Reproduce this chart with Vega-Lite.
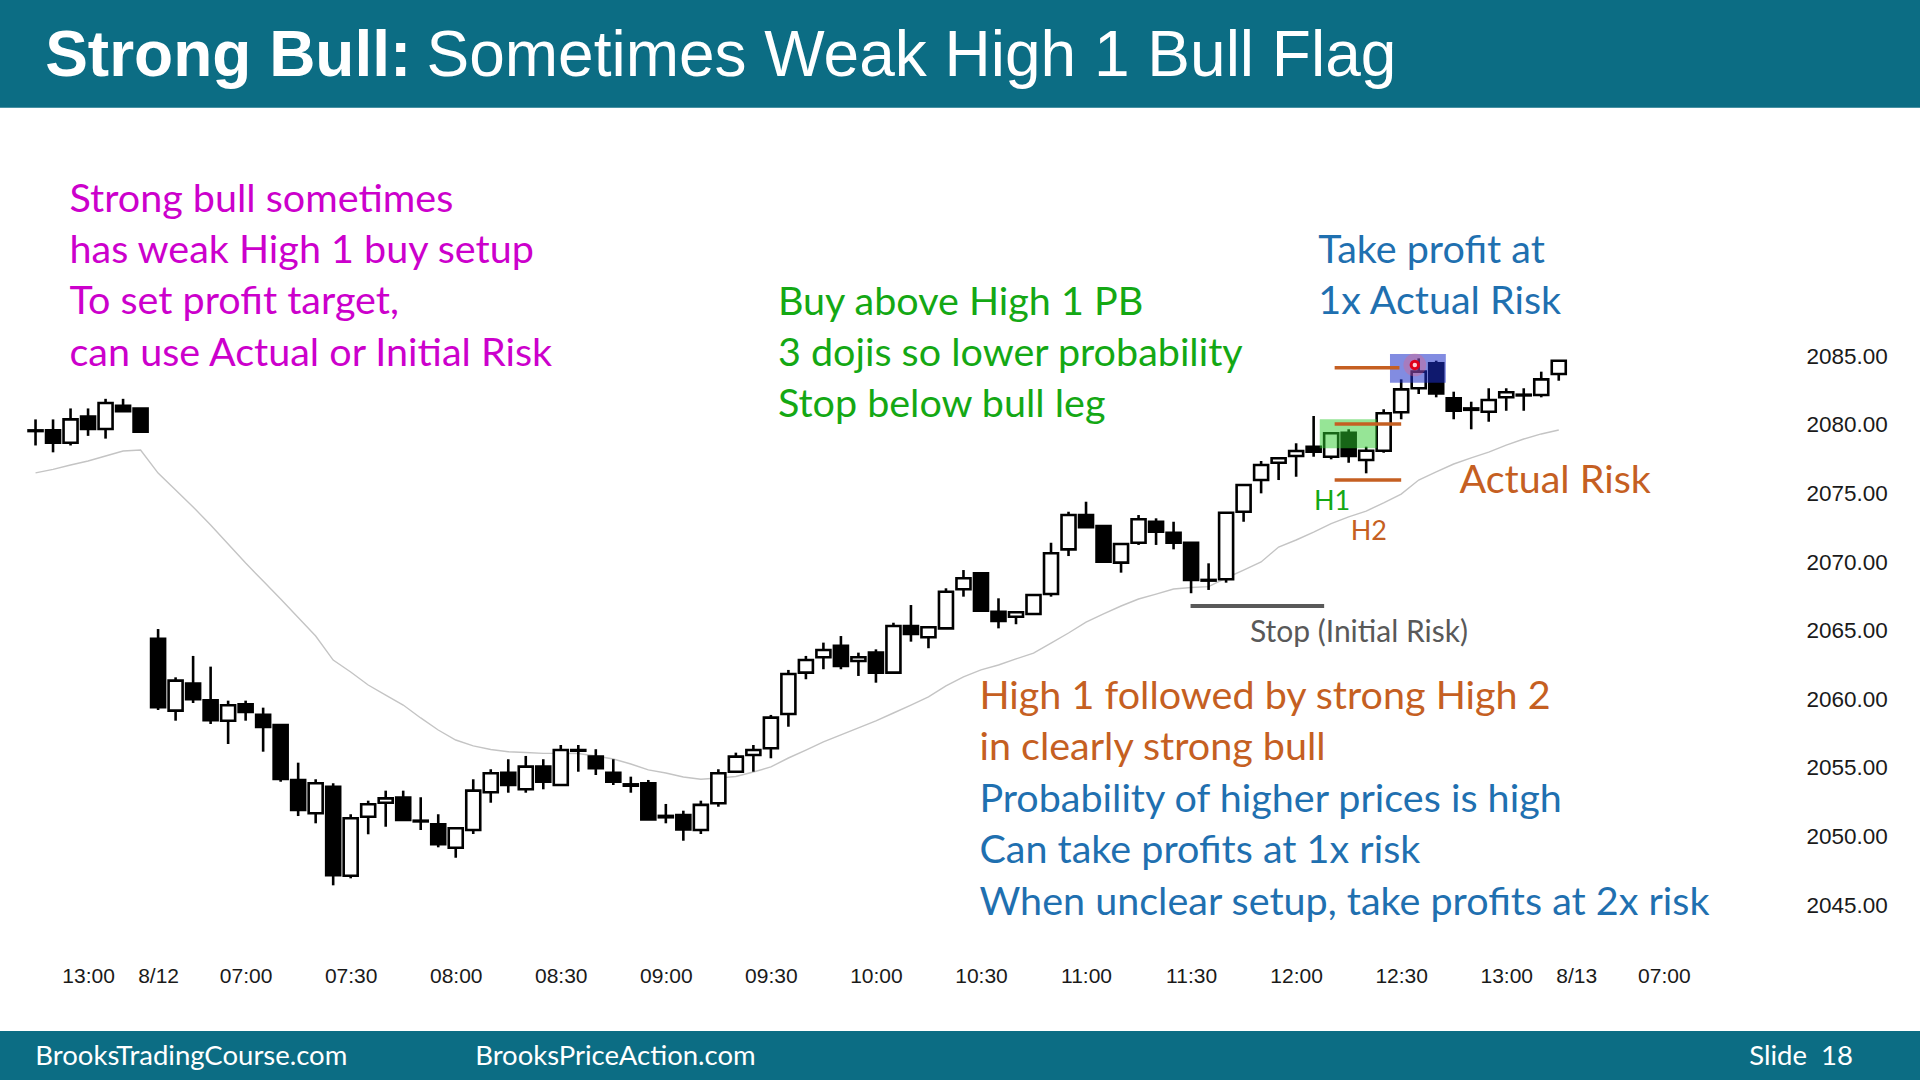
{
  "$schema": "https://vega.github.io/schema/vega-lite/v6.json",
  "width": 1920,
  "height": 1080,
  "autosize": "none",
  "padding": 0,
  "background": "white",
  "config": {"view": {"stroke": null}},
  "datasets": {
    "one": [{}],
    "bars": [
      {"i":0,"o":2079.6,"h":2080.4,"l":2078.5,"c":2079.55,"ma":2076.5},
      {"i":1,"o":2079.6,"h":2080.4,"l":2078.0,"c":2078.7,"ma":2076.76},
      {"i":2,"o":2078.7,"h":2081.2,"l":2078.5,"c":2080.4,"ma":2077.08},
      {"i":3,"o":2080.6,"h":2081.2,"l":2079.2,"c":2079.7,"ma":2077.37},
      {"i":4,"o":2079.7,"h":2081.9,"l":2079.0,"c":2081.6,"ma":2077.73},
      {"i":5,"o":2081.4,"h":2081.9,"l":2081.0,"c":2081.0,"ma":2078.1},
      {"i":6,"o":2081.2,"h":2081.2,"l":2079.5,"c":2079.5,"ma":2078.17},
      {"i":7,"o":2064.4,"h":2065.12,"l":2059.22,"c":2059.42,"ma":2076.49},
      {"i":8,"o":2059.17,"h":2061.6,"l":2058.44,"c":2061.36,"ma":2075.26},
      {"i":9,"o":2061.14,"h":2063.16,"l":2059.73,"c":2060.0,"ma":2074.02},
      {"i":10,"o":2059.93,"h":2062.38,"l":2058.2,"c":2058.47,"ma":2072.7},
      {"i":11,"o":2058.44,"h":2059.9,"l":2056.74,"c":2059.56,"ma":2071.32},
      {"i":12,"o":2059.64,"h":2059.9,"l":2058.44,"c":2059.07,"ma":2069.93},
      {"i":13,"o":2058.86,"h":2059.39,"l":2056.18,"c":2057.98,"ma":2068.62},
      {"i":14,"o":2058.13,"h":2058.13,"l":2053.99,"c":2054.19,"ma":2067.31},
      {"i":15,"o":2054.12,"h":2055.38,"l":2051.49,"c":2051.93,"ma":2065.96},
      {"i":16,"o":2051.69,"h":2054.17,"l":2050.96,"c":2053.88,"ma":2064.61},
      {"i":17,"o":2053.63,"h":2053.88,"l":2046.44,"c":2047.17,"ma":2062.86},
      {"i":18,"o":2047.14,"h":2051.62,"l":2046.95,"c":2051.33,"ma":2061.99},
      {"i":19,"o":2051.44,"h":2052.61,"l":2050.16,"c":2052.35,"ma":2061.04},
      {"i":20,"o":2052.46,"h":2053.34,"l":2050.71,"c":2052.78,"ma":2060.31},
      {"i":21,"o":2052.83,"h":2053.34,"l":2051.2,"c":2051.2,"ma":2059.58},
      {"i":22,"o":2051.15,"h":2052.86,"l":2050.47,"c":2051.1,"ma":2058.64},
      {"i":23,"o":2050.89,"h":2051.62,"l":2049.21,"c":2049.43,"ma":2057.76},
      {"i":24,"o":2049.18,"h":2050.6,"l":2048.45,"c":2050.6,"ma":2057.03},
      {"i":25,"o":2050.47,"h":2054.17,"l":2050.18,"c":2053.34,"ma":2056.6},
      {"i":26,"o":2053.22,"h":2054.9,"l":2052.46,"c":2054.61,"ma":2056.34},
      {"i":27,"o":2054.65,"h":2055.63,"l":2053.19,"c":2053.75,"ma":2056.18},
      {"i":28,"o":2053.44,"h":2055.87,"l":2053.19,"c":2055.09,"ma":2056.12},
      {"i":29,"o":2055.09,"h":2055.63,"l":2053.44,"c":2053.99,"ma":2056.06},
      {"i":30,"o":2053.75,"h":2056.67,"l":2053.75,"c":2056.3,"ma":2056.06},
      {"i":31,"o":2056.3,"h":2056.67,"l":2054.72,"c":2056.25,"ma":2056.05},
      {"i":32,"o":2055.82,"h":2056.36,"l":2054.48,"c":2054.97,"ma":2055.87},
      {"i":33,"o":2054.65,"h":2055.63,"l":2053.75,"c":2053.99,"ma":2055.65},
      {"i":34,"o":2053.8,"h":2054.36,"l":2053.19,"c":2053.7,"ma":2055.28},
      {"i":35,"o":2053.88,"h":2054.12,"l":2051.25,"c":2051.25,"ma":2054.85},
      {"i":36,"o":2051.5,"h":2052.37,"l":2050.96,"c":2051.4,"ma":2054.63},
      {"i":37,"o":2051.57,"h":2051.88,"l":2049.69,"c":2050.52,"ma":2054.34},
      {"i":38,"o":2050.47,"h":2052.61,"l":2050.18,"c":2052.3,"ma":2054.17},
      {"i":39,"o":2052.42,"h":2054.9,"l":2052.17,"c":2054.61,"ma":2054.26},
      {"i":40,"o":2054.72,"h":2056.11,"l":2054.72,"c":2055.82,"ma":2054.37},
      {"i":41,"o":2055.94,"h":2056.67,"l":2054.72,"c":2056.3,"ma":2054.7},
      {"i":42,"o":2056.43,"h":2058.86,"l":2055.7,"c":2058.66,"ma":2055.07},
      {"i":43,"o":2058.93,"h":2062.14,"l":2058.0,"c":2061.84,"ma":2055.72},
      {"i":44,"o":2061.94,"h":2063.16,"l":2061.46,"c":2062.86,"ma":2056.3},
      {"i":45,"o":2063.06,"h":2064.13,"l":2062.19,"c":2063.59,"ma":2056.89},
      {"i":46,"o":2063.89,"h":2064.61,"l":2062.19,"c":2062.43,"ma":2057.4},
      {"i":47,"o":2062.79,"h":2063.4,"l":2061.7,"c":2063.06,"ma":2057.91},
      {"i":48,"o":2063.4,"h":2063.64,"l":2061.21,"c":2061.94,"ma":2058.42},
      {"i":49,"o":2061.94,"h":2065.58,"l":2061.94,"c":2065.34,"ma":2059.0},
      {"i":50,"o":2065.34,"h":2066.87,"l":2064.2,"c":2064.76,"ma":2059.58},
      {"i":51,"o":2064.52,"h":2065.34,"l":2063.72,"c":2065.25,"ma":2060.17},
      {"i":52,"o":2065.17,"h":2068.09,"l":2065.17,"c":2067.84,"ma":2060.97},
      {"i":53,"o":2068.02,"h":2069.42,"l":2067.48,"c":2068.82,"ma":2061.63},
      {"i":54,"o":2069.18,"h":2069.18,"l":2066.46,"c":2066.46,"ma":2062.14},
      {"i":55,"o":2066.38,"h":2067.36,"l":2065.17,"c":2065.71,"ma":2062.5},
      {"i":56,"o":2066.02,"h":2066.34,"l":2065.47,"c":2066.34,"ma":2062.94},
      {"i":57,"o":2066.22,"h":2067.6,"l":2066.22,"c":2067.6,"ma":2063.37},
      {"i":58,"o":2067.67,"h":2071.41,"l":2067.48,"c":2070.64,"ma":2064.1},
      {"i":59,"o":2070.93,"h":2073.67,"l":2070.44,"c":2073.43,"ma":2064.83},
      {"i":60,"o":2073.43,"h":2074.4,"l":2072.54,"c":2072.54,"ma":2065.63},
      {"i":61,"o":2072.63,"h":2072.63,"l":2070.03,"c":2070.03,"ma":2066.22},
      {"i":62,"o":2069.96,"h":2071.32,"l":2069.23,"c":2071.32,"ma":2066.8},
      {"i":63,"o":2071.41,"h":2073.43,"l":2071.25,"c":2073.12,"ma":2067.31},
      {"i":64,"o":2072.94,"h":2073.19,"l":2071.25,"c":2072.22,"ma":2067.67},
      {"i":65,"o":2072.14,"h":2072.94,"l":2070.93,"c":2071.41,"ma":2068.04},
      {"i":66,"o":2071.41,"h":2071.41,"l":2067.73,"c":2068.7,"ma":2068.15},
      {"i":67,"o":2068.65,"h":2069.91,"l":2067.97,"c":2068.7,"ma":2068.21},
      {"i":68,"o":2068.75,"h":2073.6,"l":2068.5,"c":2073.6,"ma":2068.84},
      {"i":69,"o":2073.67,"h":2075.62,"l":2072.94,"c":2075.62,"ma":2069.42},
      {"i":70,"o":2075.98,"h":2077.37,"l":2075.01,"c":2077.08,"ma":2070.01},
      {"i":71,"o":2077.24,"h":2077.57,"l":2075.98,"c":2077.57,"ma":2071.1},
      {"i":72,"o":2077.73,"h":2078.66,"l":2076.22,"c":2078.1,"ma":2071.61},
      {"i":73,"o":2078.41,"h":2080.65,"l":2077.68,"c":2078.05,"ma":2072.19},
      {"i":74,"o":2077.68,"h":2079.39,"l":2077.49,"c":2079.39,"ma":2072.81},
      {"i":75,"o":2079.43,"h":2079.68,"l":2077.24,"c":2077.73,"ma":2073.29},
      {"i":76,"o":2077.44,"h":2078.41,"l":2076.47,"c":2078.12,"ma":2073.72},
      {"i":77,"o":2078.12,"h":2081.14,"l":2077.97,"c":2080.85,"ma":2074.31},
      {"i":78,"o":2080.92,"h":2083.32,"l":2080.41,"c":2082.59,"ma":2074.96},
      {"i":79,"o":2082.67,"h":2084.85,"l":2082.25,"c":2083.88,"ma":2075.98},
      {"i":80,"o":2084.49,"h":2084.68,"l":2082.01,"c":2082.3,"ma":2076.57},
      {"i":81,"o":2081.94,"h":2082.42,"l":2080.41,"c":2081.03,"ma":2077.15},
      {"i":82,"o":2081.2,"h":2081.69,"l":2079.68,"c":2081.1,"ma":2077.59},
      {"i":83,"o":2080.96,"h":2082.67,"l":2080.23,"c":2081.81,"ma":2078.02},
      {"i":84,"o":2082.01,"h":2082.67,"l":2081.03,"c":2082.38,"ma":2078.53},
      {"i":85,"o":2082.2,"h":2082.67,"l":2081.03,"c":2082.15,"ma":2078.97},
      {"i":86,"o":2082.18,"h":2083.88,"l":2082.01,"c":2083.32,"ma":2079.34},
      {"i":87,"o":2083.71,"h":2084.68,"l":2083.22,"c":2084.68,"ma":2079.63}
    ]
  },
  "layer": [
    {
      "data": {"name": "one"},
      "mark": {"type": "rect", "fill": "#0c6d84"},
      "encoding": {
        "x": {"datum": -3}, "x2": {"datum": 109},
        "y": {"datum": 2103.12}, "y2": {"datum": 2113}
      }
    },
    {
      "data": {"name": "one"},
      "mark": {"type": "rect", "fill": "#0c6d84"},
      "encoding": {
        "x": {"datum": -3}, "x2": {"datum": 109},
        "y": {"datum": 2030}, "y2": {"datum": 2035.82}
      }
    },
    {
      "data": {"name": "bars"},
      "mark": {"type": "line", "stroke": "#c4c4c4", "strokeWidth": 1.4},
      "encoding": {
        "x": {"field": "i", "type": "quantitative",
              "scale": {"domain": [-1.744, 107.347], "nice": false, "zero": false},
              "title": null,
              "axis": {"orient": "bottom", "offset": -104, "title": null,
                       "values": [3, 7, 12, 18, 24, 30, 36, 42, 48, 54, 60, 66, 72, 78, 84, 88, 93],
                       "labelExpr": "datum.value==3?'13:00':datum.value==7?'8/12':datum.value==12?'07:00':datum.value==18?'07:30':datum.value==24?'08:00':datum.value==30?'08:30':datum.value==36?'09:00':datum.value==42?'09:30':datum.value==48?'10:00':datum.value==54?'10:30':datum.value==60?'11:00':datum.value==66?'11:30':datum.value==72?'12:00':datum.value==78?'12:30':datum.value==84?'13:00':datum.value==88?'8/13':'07:00'",
                       "ticks": false, "domain": false, "grid": false,
                       "labelPadding": 0, "labelBaseline": "middle", "labelFlush": false,
                       "labelOverlap": false, "labelFont": "Liberation Sans", "labelFontSize": 21,
                       "labelColor": "#1a1a1a"}},
        "y": {"field": "ma", "type": "quantitative",
              "scale": {"domain": [2032.25, 2110.97], "nice": false, "zero": false},
              "title": null,
              "axis": {"orient": "right", "offset": -114, "title": null,
                       "values": [2045, 2050, 2055, 2060, 2065, 2070, 2075, 2080, 2085],
                       "format": ".2f", "ticks": false, "domain": false, "grid": false,
                       "labelAlign": "left", "labelPadding": 0, "labelFlush": false,
                       "labelOverlap": false, "labelFont": "Liberation Sans", "labelFontSize": 22.5,
                       "labelColor": "#1a1a1a"}}
      }
    },
    {
      "data": {"name": "bars"},
      "mark": {"type": "rule", "stroke": "black", "strokeWidth": 2.6},
      "encoding": {
        "x": {"field": "i", "type": "quantitative"},
        "y": {"field": "l", "type": "quantitative"},
        "y2": {"field": "h"}
      }
    },
    {
      "data": {"name": "bars"},
      "mark": {"type": "bar", "width": 14, "stroke": "black", "strokeWidth": 2.6},
      "encoding": {
        "x": {"field": "i", "type": "quantitative"},
        "y": {"field": "o", "type": "quantitative"},
        "y2": {"field": "c"},
        "fill": {"condition": {"test": "datum.c >= datum.o", "value": "white"}, "value": "black"}
      }
    },
    {
      "data": {"name": "one"},
      "mark": {"type": "rect", "fill": "#2ecc2e", "opacity": 0.5},
      "encoding": {
        "x": {"datum": 73.35}, "x2": {"datum": 76.6},
        "y": {"datum": 2078.29}, "y2": {"datum": 2080.41}
      }
    },
    {
      "data": {"name": "one"},
      "mark": {"type": "rect", "fill": "#1b2dc8", "opacity": 0.55},
      "encoding": {
        "x": {"datum": 77.36}, "x2": {"datum": 80.55},
        "y": {"datum": 2083.08}, "y2": {"datum": 2085.17}
      }
    },
    {
      "data": {"name": "one"},
      "mark": {"type": "rule", "stroke": "#c55f22", "strokeWidth": 3.5},
      "encoding": {"x": {"datum": 74.2}, "x2": {"datum": 77.9}, "y": {"datum": 2084.17}}
    },
    {
      "data": {"name": "one"},
      "mark": {"type": "rule", "stroke": "#c55f22", "strokeWidth": 3.5},
      "encoding": {"x": {"datum": 74.2}, "x2": {"datum": 78.0}, "y": {"datum": 2080.07}}
    },
    {
      "data": {"name": "one"},
      "mark": {"type": "rule", "stroke": "#c55f22", "strokeWidth": 3.5},
      "encoding": {"x": {"datum": 74.2}, "x2": {"datum": 78.0}, "y": {"datum": 2075.98}}
    },
    {
      "data": {"name": "one"},
      "mark": {"type": "rule", "stroke": "#595959", "strokeWidth": 4},
      "encoding": {"x": {"datum": 65.97}, "x2": {"datum": 73.6}, "y": {"datum": 2066.8}}
    },
    {
      "data": {"name": "one"},
      "mark": {"type": "point", "filled": true, "fill": "#ff5a6e", "opacity": 0.3, "size": 520},
      "encoding": {"x": {"datum": 78.78}, "y": {"datum": 2084.37}}
    },
    {
      "data": {"name": "one"},
      "mark": {"type": "point", "filled": false, "stroke": "#e0001b", "strokeWidth": 3, "fill": "#ffd0d8", "fillOpacity": 1, "opacity": 1, "size": 55},
      "encoding": {"x": {"datum": 78.78}, "y": {"datum": 2084.37}}
    },
    {
      "data": {"name": "one"},
      "mark": {"type": "text", "font": "Liberation Sans", "fontWeight": "bold", "fontSize": 64, "fill": "white", "align": "left", "baseline": "alphabetic"},
      "encoding": {"x": {"datum": 0.55}, "y": {"datum": 2105.4}, "text": {"value": "Strong Bull:"}}
    },
    {
      "data": {"name": "one"},
      "mark": {"type": "text", "font": "Liberation Sans", "fontSize": 64, "fill": "white", "align": "left", "baseline": "alphabetic"},
      "encoding": {"x": {"datum": 22.33}, "y": {"datum": 2105.4}, "text": {"value": "Sometimes Weak High 1 Bull Flag"}}
    },
    {
      "data": {"name": "one"},
      "mark": {"type": "text", "font": "Lato", "fontSize": 39.5, "fill": "#cc00cc", "align": "left", "baseline": "middle", "lineHeight": 51.4},
      "encoding": {"x": {"datum": 1.94}, "y": {"datum": 2096.42},
                   "text": {"value": ["Strong bull sometimes", "has weak High 1 buy setup", "To set profit target,", "can use Actual or Initial Risk"]}}
    },
    {
      "data": {"name": "one"},
      "mark": {"type": "text", "font": "Lato", "fontSize": 39.5, "fill": "#14a814", "align": "left", "baseline": "middle", "lineHeight": 51.4},
      "encoding": {"x": {"datum": 42.4}, "y": {"datum": 2088.92},
                   "text": {"value": ["Buy above High 1 PB", "3 dojis so lower probability", "Stop below bull leg"]}}
    },
    {
      "data": {"name": "one"},
      "mark": {"type": "text", "font": "Lato", "fontSize": 39.5, "fill": "#1f70b0", "align": "left", "baseline": "middle", "lineHeight": 51.4},
      "encoding": {"x": {"datum": 73.27}, "y": {"datum": 2092.67},
                   "text": {"value": ["Take profit at", "1x Actual Risk"]}}
    },
    {
      "data": {"name": "one"},
      "mark": {"type": "text", "font": "Lato", "fontSize": 39.5, "fill": "#c55f22", "align": "left", "baseline": "middle"},
      "encoding": {"x": {"datum": 81.33}, "y": {"datum": 2075.89}, "text": {"value": "Actual Risk"}}
    },
    {
      "data": {"name": "one"},
      "mark": {"type": "text", "font": "Lato", "fontSize": 27, "fill": "#14a814", "align": "center", "baseline": "middle"},
      "encoding": {"x": {"datum": 74.05}, "y": {"datum": 2074.36}, "text": {"value": "H1"}}
    },
    {
      "data": {"name": "one"},
      "mark": {"type": "text", "font": "Lato", "fontSize": 27, "fill": "#c55f22", "align": "center", "baseline": "middle"},
      "encoding": {"x": {"datum": 76.15}, "y": {"datum": 2072.2}, "text": {"value": "H2"}}
    },
    {
      "data": {"name": "one"},
      "mark": {"type": "text", "font": "Lato", "fontSize": 30, "fill": "#595959", "align": "left", "baseline": "middle"},
      "encoding": {"x": {"datum": 69.36}, "y": {"datum": 2064.83}, "text": {"value": "Stop (Initial Risk)"}}
    },
    {
      "data": {"name": "one"},
      "mark": {"type": "text", "font": "Lato", "fontSize": 39.5, "fill": "#c55f22", "align": "left", "baseline": "middle", "lineHeight": 51.4},
      "encoding": {"x": {"datum": 53.91}, "y": {"datum": 2060.18},
                   "text": {"value": ["High 1 followed by strong High 2", "in clearly strong bull"]}}
    },
    {
      "data": {"name": "one"},
      "mark": {"type": "text", "font": "Lato", "fontSize": 39.5, "fill": "#1f70b0", "align": "left", "baseline": "middle", "lineHeight": 51.4},
      "encoding": {"x": {"datum": 53.91}, "y": {"datum": 2052.68},
                   "text": {"value": ["Probability of higher prices is high", "Can take profits at 1x risk", "When unclear setup, take profits at 2x risk"]}}
    },
    {
      "data": {"name": "one"},
      "mark": {"type": "text", "font": "Lato", "fontSize": 27.5, "fill": "white", "align": "left", "baseline": "middle"},
      "encoding": {"x": {"datum": -0.01}, "y": {"datum": 2033.95}, "text": {"value": "BrooksTradingCourse.com"}}
    },
    {
      "data": {"name": "one"},
      "mark": {"type": "text", "font": "Lato", "fontSize": 27.5, "fill": "white", "align": "left", "baseline": "middle"},
      "encoding": {"x": {"datum": 25.11}, "y": {"datum": 2033.95}, "text": {"value": "BrooksPriceAction.com"}}
    },
    {
      "data": {"name": "one"},
      "mark": {"type": "text", "font": "Lato", "fontSize": 27.5, "fill": "white", "align": "right", "baseline": "middle"},
      "encoding": {"x": {"datum": 103.8}, "y": {"datum": 2033.95}, "text": {"value": "Slide\u00a0\u00a018"}}
    }
  ]
}
